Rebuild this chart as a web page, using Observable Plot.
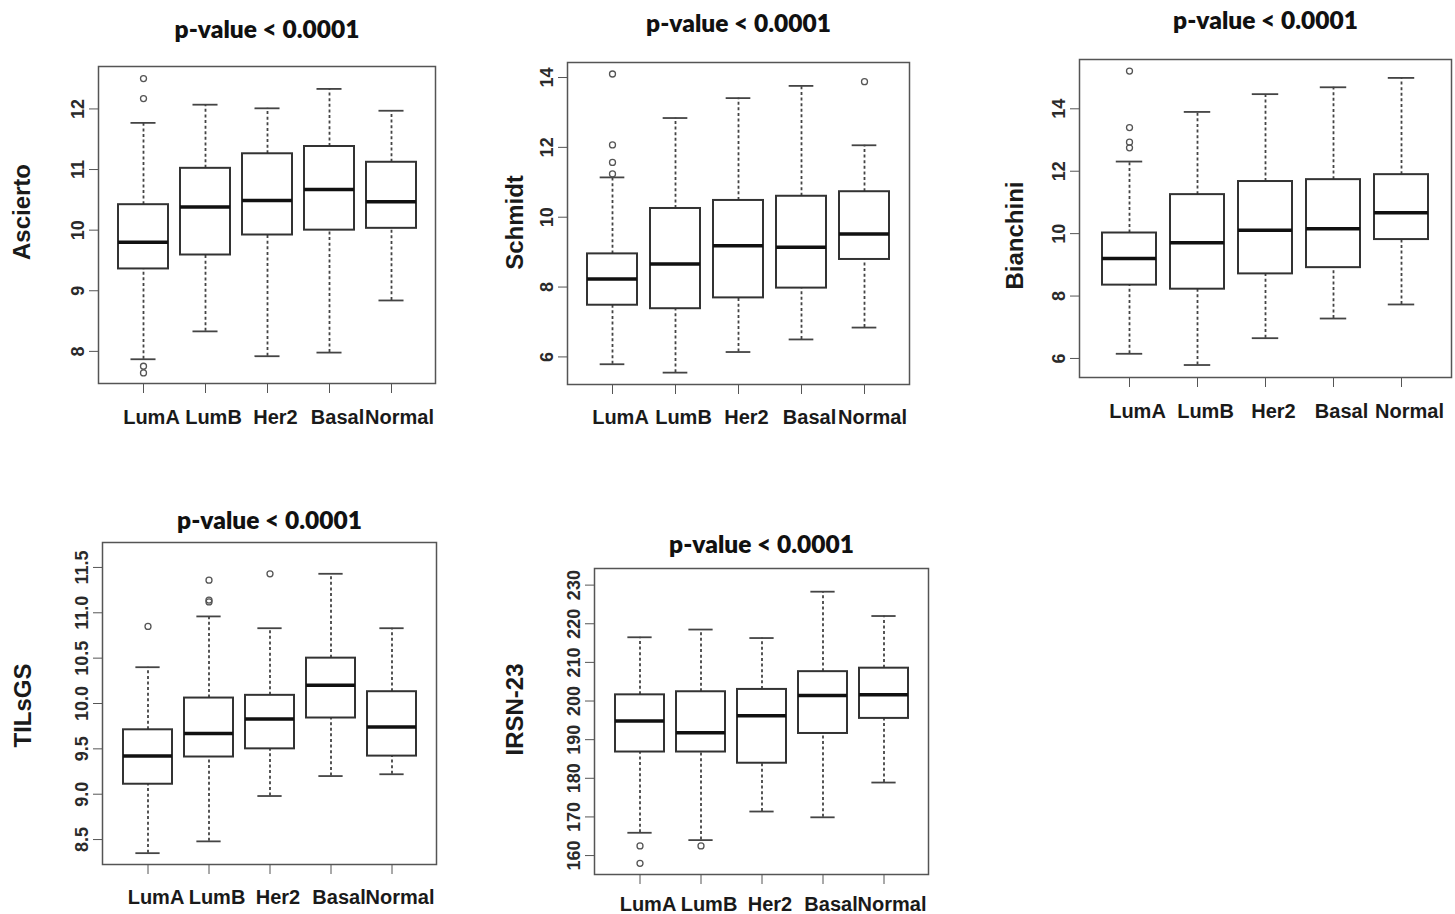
<!DOCTYPE html>
<html><head><meta charset="utf-8">
<script src="https://cdn.jsdelivr.net/npm/d3@7"></script>
<script src="https://cdn.jsdelivr.net/npm/@observablehq/plot@0.6"></script>
<style>
body{margin:0;background:#fff;}
#wrap{position:relative;width:1455px;height:914px;overflow:hidden;background:#fff;}
#wrap svg{position:absolute;overflow:visible;}
</style></head><body><div id="wrap"></div>
<script>
const subtypes = ["LumA", "LumB", "Her2", "Basal", "Normal"];
const titleText = "p-value < 0.0001";

// each row: [lower whisker, Q1, median, Q3, upper whisker]
const asciertoStats = [[7.87, 9.36, 9.80, 10.42, 11.77], [8.33, 9.59, 10.38, 11.02, 12.07], [7.92, 9.92, 10.49, 11.26, 12.01], [7.98, 10.00, 10.67, 11.38, 12.33], [8.84, 10.03, 10.47, 11.12, 11.97]];
const asciertoOutliers = [["LumA", 12.50], ["LumA", 12.17], ["LumA", 7.755], ["LumA", 7.645]];
const asciertoTicks = [8, 9, 10, 11, 12];

const schmidtStats = [[5.79, 7.48, 8.23, 8.95, 11.14], [5.55, 7.38, 8.66, 10.25, 12.84], [6.14, 7.69, 9.18, 10.48, 13.41], [6.50, 7.97, 9.14, 10.60, 13.76], [6.84, 8.79, 9.52, 10.73, 12.06]];
const schmidtOutliers = [["LumA", 14.10], ["LumA", 12.07], ["LumA", 11.57], ["LumA", 11.24], ["Normal", 13.88]];
const schmidtTicks = [6, 8, 10, 12, 14];

const bianchiniStats = [[6.15, 8.35, 9.20, 10.02, 12.31], [5.79, 8.22, 9.71, 11.25, 13.90], [6.65, 8.71, 10.11, 11.67, 14.47], [7.28, 8.91, 10.16, 11.73, 14.69], [7.73, 9.81, 10.67, 11.89, 14.99]];
const bianchiniOutliers = [["LumA", 15.21], ["LumA", 13.40], ["LumA", 12.93], ["LumA", 12.75]];
const bianchiniTicks = [6, 8, 10, 12, 14];

const tilsgsStats = [[8.35, 9.11, 9.42, 9.71, 10.40], [8.48, 9.41, 9.67, 10.06, 10.96], [8.98, 9.50, 9.83, 10.09, 10.83], [9.20, 9.84, 10.20, 10.50, 11.43], [9.22, 9.42, 9.74, 10.13, 10.83]];
const tilsgsOutliers = [["LumA", 10.85], ["LumB", 11.36], ["LumB", 11.14], ["LumB", 11.12], ["Her2", 11.43]];
const tilsgsTicks = [8.5, 9.0, 9.5, 10.0, 10.5, 11.0, 11.5];

const irsnStats = [[165.9, 186.8, 194.8, 201.6, 216.5], [164.0, 186.8, 191.8, 202.4, 218.5], [171.4, 183.9, 196.2, 203.0, 216.3], [169.9, 191.6, 201.4, 207.6, 228.3], [178.9, 195.5, 201.6, 208.5, 222.0]];
const irsnOutliers = [["LumA", 162.5], ["LumA", 158.0], ["LumB", 162.5]];
const irsnTicks = [160, 170, 180, 190, 200, 210, 220, 230];

const panels = [
  {label: "Ascierto", stats: asciertoStats, outliers: asciertoOutliers, ticks: asciertoTicks, fmt: d3.format("d"),
   domain: [7.47, 12.70], box: [0, 0, 470, 450], frame: [98, 66, 435, 383], labelDx: -76, labelDy: -13, titleDy: -36, xPad: 26},
  {label: "Schmidt", stats: schmidtStats, outliers: schmidtOutliers, ticks: schmidtTicks, fmt: d3.format("d"),
   domain: [5.21, 14.43], box: [470, 0, 490, 450], frame: [567, 62, 909, 384], labelDx: -52, labelDy: -1, titleDy: -38, xPad: 25},
  {label: "Bianchini", stats: bianchiniStats, outliers: bianchiniOutliers, ticks: bianchiniTicks, fmt: d3.format("d"),
   domain: [5.39, 15.58], box: [960, 0, 495, 450], frame: [1079, 59, 1451, 377], labelDx: -64, labelDy: 17, titleDy: -38, xPad: 26},
  {label: "TILsGS", stats: tilsgsStats, outliers: tilsgsOutliers, ticks: tilsgsTicks, fmt: d3.format(".1f"),
   domain: [8.225, 11.775], box: [0, 450, 470, 464], frame: [102, 542, 436, 864], labelDx: -79, labelDy: 2, titleDy: -21, xPad: 25},
  {label: "IRSN-23", stats: irsnStats, outliers: irsnOutliers, ticks: irsnTicks, fmt: d3.format("d"),
   domain: [155.1, 234.3], box: [470, 450, 490, 464], frame: [594, 568, 928, 874], labelDx: -79, labelDy: -12, titleDy: -23, xPad: 22}
];

const wrap = document.getElementById("wrap");

for (const p of panels) {
  const [bx, by, bw, bh] = p.box;
  const [fl, ft, fr, fb] = p.frame;
  const rows = subtypes.map((type, i) => ({type, lo: p.stats[i][0], q1: p.stats[i][1], med: p.stats[i][2], q3: p.stats[i][3], hi: p.stats[i][4]}));
  const outs = p.outliers.map(([type, value]) => ({type, value}));
  const step = (fr - fl) / 5.4;
  const capInset = step * 0.8 * 0.25;
  const whisker = {stroke: "#444", strokeWidth: 1.8, strokeDasharray: "3,2.6"};
  const cap = {stroke: "#444", strokeWidth: 1.8, insetLeft: capInset, insetRight: capInset};
  const chart = Plot.plot({
    width: bw, height: bh,
    marginLeft: fl - bx, marginTop: ft - by, marginRight: bx + bw - fr, marginBottom: by + bh - fb,
    style: {fontFamily: "'Liberation Sans', Arial, sans-serif", overflow: "visible", background: "transparent", color: "#222"},
    x: {domain: subtypes, paddingInner: 0.2, paddingOuter: 0.3, align: 0.5},
    y: {domain: p.domain},
    marks: [
      Plot.frame({stroke: "#555", strokeWidth: 1.5}),
      Plot.ruleX(rows, {x: "type", y1: "lo", y2: "q1", ...whisker}),
      Plot.ruleX(rows, {x: "type", y1: "q3", y2: "hi", ...whisker}),
      Plot.tickY(rows, {x: "type", y: "lo", ...cap}),
      Plot.tickY(rows, {x: "type", y: "hi", ...cap}),
      Plot.barY(rows, {x: "type", y1: "q1", y2: "q3", fill: "white", stroke: "#333", strokeWidth: 2}),
      Plot.tickY(rows, {x: "type", y: "med", stroke: "#111", strokeWidth: 3.5}),
      Plot.dot(outs, {x: "type", y: "value", r: 3, stroke: "#555", strokeWidth: 1.3, fill: "none"}),
      Plot.axisY({ticks: p.ticks, tickFormat: p.fmt, tickRotate: -90, tickSize: 9, tickPadding: 6, fontSize: 18, fontWeight: "bold", label: null, stroke: "#555", fill: "#2a2a2a"}),
      Plot.axisX({tickSize: 10, tickFormat: () => "", label: null, stroke: "#555"}),
      Plot.axisX({tickSize: 0, tickPadding: p.xPad, dx: 8, fontSize: 20, fontWeight: "bold", label: null, fill: "#1a1a1a"}),
      Plot.text([p.label], {text: d => d, frameAnchor: "left", textAnchor: "middle", lineAnchor: "middle", rotate: -90, dx: p.labelDx, dy: p.labelDy, fontSize: 24, fontWeight: "bold", fill: "#1a1a1a"}),
      Plot.text([titleText], {text: d => d, frameAnchor: "top", lineAnchor: "middle", dy: p.titleDy, fontSize: 24.5, fontWeight: 800, fontFamily: "Lato", fill: "#111"})
    ]
  });
  chart.style.left = bx + "px";
  chart.style.top = by + "px";
  wrap.append(chart);
}
</script>
</body></html>
